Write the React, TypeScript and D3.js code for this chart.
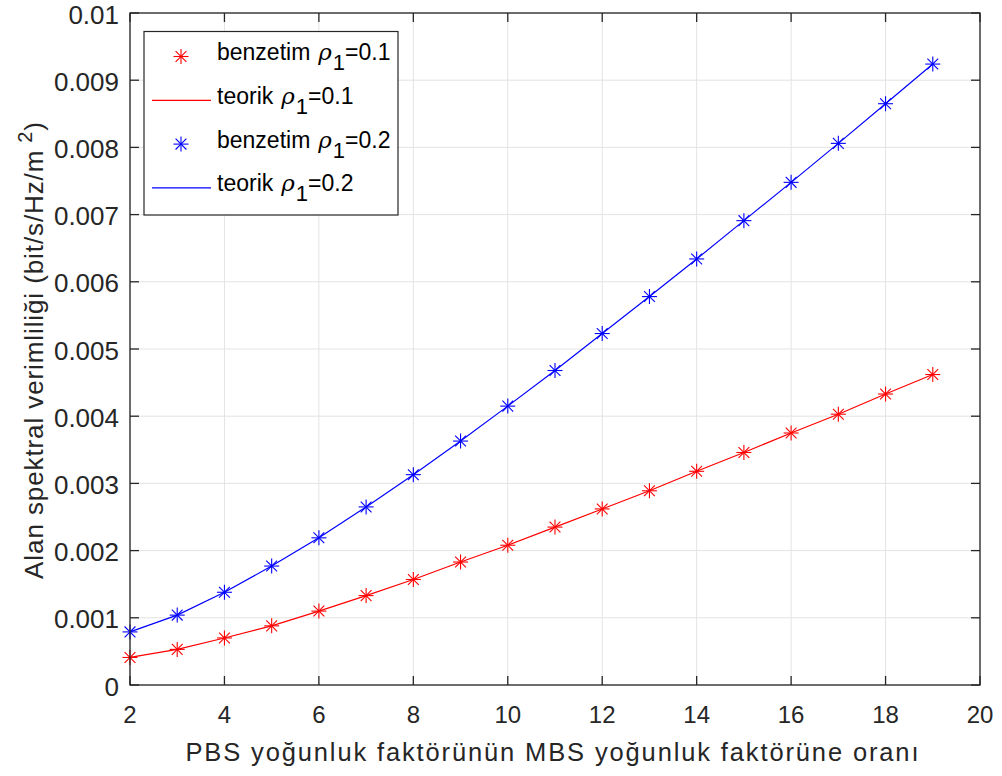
import React from "react";
import * as d3 from "d3";

// PBS/MBS density ratio
const ratios = [2, 3, 4, 5, 6, 7, 8, 9, 10, 11, 12, 13, 14, 15, 16, 17, 18, 19];

// Area spectral efficiency, simulation (benzetim) and theory (teorik)
const benzetimRho01 = [0.00041, 0.00053, 0.0007, 0.00088, 0.0011, 0.00133, 0.00157, 0.00183, 0.00208, 0.00235, 0.00262, 0.00289, 0.00318, 0.00346, 0.00375, 0.00403, 0.00433, 0.00462];
const teorikRho01 = [0.00041, 0.00053, 0.0007, 0.00088, 0.0011, 0.00133, 0.00157, 0.00183, 0.00208, 0.00235, 0.00262, 0.00289, 0.00318, 0.00346, 0.00375, 0.00403, 0.00433, 0.00462];
const benzetimRho02 = [0.00079, 0.00104, 0.00138, 0.00177, 0.00219, 0.00265, 0.00313, 0.00363, 0.00415, 0.00468, 0.00523, 0.00578, 0.00634, 0.00691, 0.00748, 0.00806, 0.00865, 0.00924];
const teorikRho02 = [0.00079, 0.00104, 0.00138, 0.00177, 0.00219, 0.00265, 0.00313, 0.00363, 0.00415, 0.00468, 0.00523, 0.00578, 0.00634, 0.00691, 0.00748, 0.00806, 0.00865, 0.00924];

const xTicks = [2, 4, 6, 8, 10, 12, 14, 16, 18, 20];
const yTicks = [0, 0.001, 0.002, 0.003, 0.004, 0.005, 0.006, 0.007, 0.008, 0.009, 0.01];
const yTickLabels = ["0", "0.001", "0.002", "0.003", "0.004", "0.005", "0.006", "0.007", "0.008", "0.009", "0.01"];

const W = 1002;
const H = 776;
const L = 130, R = 980, T = 13, B = 685;
const FONT = "'Liberation Sans', Arial, Helvetica, sans-serif";
const AX = "#262626";

function Asterisk({ x, y, color }: { x: number; y: number; color: string }) {
  const r = 7.5;
  const d = r * 0.72;
  return (
    <g stroke={color} strokeWidth={1.1}>
      <line x1={x - r} y1={y} x2={x + r} y2={y} />
      <line x1={x} y1={y - r} x2={x} y2={y + r} />
      <line x1={x - d} y1={y - d} x2={x + d} y2={y + d} />
      <line x1={x - d} y1={y + d} x2={x + d} y2={y - d} />
    </g>
  );
}

function LegendLabel({ x, y, prefix, value }: { x: number; y: number; prefix: string; value: string }) {
  return (
    <text x={x} y={y} fontSize={23} fill="#000" fontFamily={FONT}>
      {prefix}
      <tspan fontStyle="italic" fontFamily="'DejaVu Serif', serif" dx={8}>ρ</tspan>
      <tspan fontSize={22} dy={10} dx={1}>1</tspan>
      <tspan dy={-10}>={value}</tspan>
    </text>
  );
}

export default function App() {
  const x = d3.scaleLinear().domain([2, 20]).range([L, R]);
  const y = d3.scaleLinear().domain([0, 0.01]).range([B, T]);
  const line = d3
    .line<number>()
    .x((_, i) => x(ratios[i]))
    .y((v) => y(v));

  const tickLen = 9;
  const series = [
    { sim: benzetimRho01, theory: teorikRho01, color: "#ff0000" },
    { sim: benzetimRho02, theory: teorikRho02, color: "#0000ff" },
  ];

  const legendRows = [
    { kind: "marker", color: "#ff0000", prefix: "benzetim", value: "0.1" },
    { kind: "line", color: "#ff0000", prefix: "teorik", value: "0.1" },
    { kind: "marker", color: "#0000ff", prefix: "benzetim", value: "0.2" },
    { kind: "line", color: "#0000ff", prefix: "teorik", value: "0.2" },
  ];

  return (
    <svg
      width={W}
      height={H}
      style={{ position: "absolute", left: 0, top: 0, background: "#fff" }}
      fontFamily={FONT}
    >
      <rect width={W} height={H} fill="#fff" />
      {/* grid */}
      <g stroke="#e3e3e3" strokeWidth={1}>
        {xTicks.map((t) => (
          <line key={"gx" + t} x1={x(t)} x2={x(t)} y1={T} y2={B} />
        ))}
        {yTicks.map((t) => (
          <line key={"gy" + t} x1={L} x2={R} y1={y(t)} y2={y(t)} />
        ))}
      </g>

      {/* series */}
      {series.map((s, si) => (
        <g key={"s" + si}>
          <path d={line(s.theory) || ""} fill="none" stroke={s.color} strokeWidth={1.2} />
          {s.sim.map((v, i) => (
            <Asterisk key={i} x={x(ratios[i])} y={y(v)} color={s.color} />
          ))}
        </g>
      ))}

      {/* axes box and ticks */}
      <g stroke={AX} strokeWidth={1.3} fill="none">
        <rect x={L} y={T} width={R - L} height={B - T} />
        {xTicks.map((t) => (
          <g key={"tx" + t}>
            <line x1={x(t)} x2={x(t)} y1={B} y2={B - tickLen} />
            <line x1={x(t)} x2={x(t)} y1={T} y2={T + tickLen} />
          </g>
        ))}
        {yTicks.map((t) => (
          <g key={"ty" + t}>
            <line x1={L} x2={L + tickLen} y1={y(t)} y2={y(t)} />
            <line x1={R} x2={R - tickLen} y1={y(t)} y2={y(t)} />
          </g>
        ))}
      </g>

      {/* tick labels */}
      <g fill={AX}>
        {xTicks.map((t) => (
          <text key={"lx" + t} x={x(t)} y={723} textAnchor="middle" fontSize={24}>
            {t}
          </text>
        ))}
        {yTicks.map((t, i) => (
          <text key={"ly" + t} x={L - 11} y={y(t) + 10.5} textAnchor="end" fontSize={26}>
            {yTickLabels[i]}
          </text>
        ))}
      </g>

      {/* axis titles */}
      <text
        x={552}
        y={761}
        textAnchor="middle"
        fontSize={25.5}
        fill={AX}
        textLength={733}
        lengthAdjust="spacing"
      >
        PBS yoğunluk faktörünün MBS yoğunluk faktörüne oranı
      </text>
      <text
        transform={`translate(43, 350) rotate(-90)`}
        textAnchor="middle"
        fontSize={26}
        letterSpacing={0.9}
        fill={AX}
      >
        Alan spektral verimliliği (bit/s/Hz/m
        <tspan dx={7} dy={-11} fontSize={20}>2</tspan>
        <tspan dy={11}>)</tspan>
      </text>

      {/* legend */}
      <g>
        <rect x={144} y={31.5} width={254} height={183.5} fill="#fff" stroke={AX} strokeWidth={1.2} />
        {legendRows.map((r, i) => {
          const base = 60 + i * 43.8;
          const my = base - 3.5;
          return (
            <g key={"lg" + i}>
              {r.kind === "marker" ? (
                <Asterisk x={181} y={my} color={r.color} />
              ) : (
                <line x1={152} x2={211} y1={my} y2={my} stroke={r.color} strokeWidth={1.2} />
              )}
              <LegendLabel x={217} y={base} prefix={r.prefix} value={r.value} />
            </g>
          );
        })}
      </g>
    </svg>
  );
}
